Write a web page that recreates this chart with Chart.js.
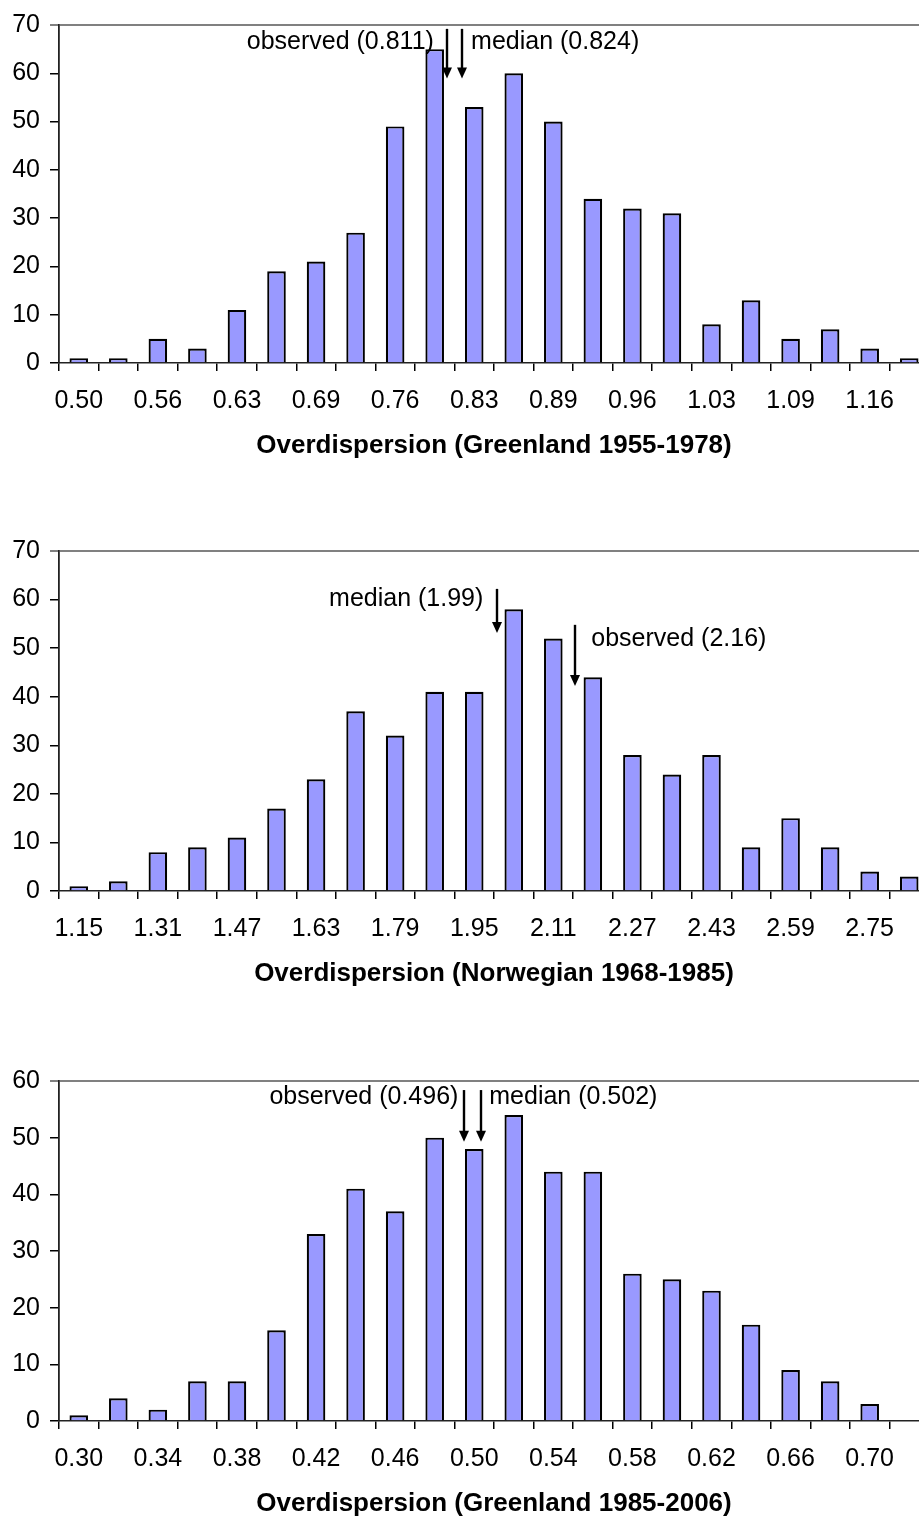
<!DOCTYPE html>
<html>
<head>
<meta charset="utf-8">
<script src="https://cdn.jsdelivr.net/npm/chart.js@4.4.1/dist/chart.umd.min.js"></script>
<style>
  html, body { margin: 0; padding: 0; background: #fff; }
  body { width: 919px; height: 1517px; overflow: hidden; position: relative; }
  canvas { position: absolute; left: 0; }
</style>
</head>
<body>
<canvas id="c1" width="929" height="463" style="top:0px"></canvas>
<canvas id="c2" width="929" height="465" style="top:526px"></canvas>
<canvas id="c3" width="929" height="465" style="top:1056px"></canvas>
<script>
// --- Greenland 1955-1978
const g1Bins = ['0.50','','0.56','','0.63','','0.69','','0.76','','0.83','','0.89','','0.96','','1.03','','1.09','','1.16',''];
const g1Counts = [1, 1, 5, 3, 11, 19, 21, 27, 49, 65, 53, 60, 50, 34, 32, 31, 8, 13, 5, 7, 3, 1];
const g1Max = 70;
const g1MarkText = ['observed (0.811)', 'median (0.824)'];
const g1MarkAt = [9.30, 9.69];      // position in bins
const g1MarkFrom = [69.2, 69.2];    // counts
const g1MarkTo = [58.9, 58.9];
const g1TextAt = [8.98, 9.92];
const g1TextY = [66.4, 66.4];

// --- Norwegian 1968-1985
const n2Bins = ['1.15','','1.31','','1.47','','1.63','','1.79','','1.95','','2.11','','2.27','','2.43','','2.59','','2.75',''];
const n2Counts = [1, 2, 8, 9, 11, 17, 23, 37, 32, 41, 41, 58, 52, 44, 28, 24, 28, 9, 15, 9, 4, 3];
const n2Max = 70;
const n2MarkText = ['median (1.99)', 'observed (2.16)'];
const n2MarkAt = [10.58, 12.54];
const n2MarkFrom = [62.2, 54.8];
const n2MarkTo = [53.1, 42.2];
const n2TextAt = [10.23, 12.96];
const n2TextY = [60.1, 51.9];

// --- Greenland 1985-2006
const g3Bins = ['0.30','','0.34','','0.38','','0.42','','0.46','','0.50','','0.54','','0.58','','0.62','','0.66','','0.70',''];
const g3Counts = [1, 4, 2, 7, 7, 16, 33, 41, 37, 50, 48, 54, 44, 44, 26, 25, 23, 17, 9, 7, 3];
const g3Max = 60;
const g3MarkText = ['observed (0.496)', 'median (0.502)'];
const g3MarkAt = [9.73, 10.17];
const g3MarkFrom = [58.4, 58.4];
const g3MarkTo = [49.3, 49.3];
const g3TextAt = [9.60, 10.38];
const g3TextY = [57.1, 57.1];

const FONT = "'Liberation Sans', Arial, sans-serif";
Chart.defaults.font.family = FONT;
Chart.defaults.color = '#000';

// arrows + labels placed through the chart scales
const markerPlugin = {
  id: 'markers',
  afterDatasetsDraw(chart, args, opts) {
    const xs = chart.scales.x, ys = chart.scales.y, c = chart.ctx;
    c.save();
    c.fillStyle = '#000';
    c.strokeStyle = '#000';
    opts.text.forEach((t, i) => {
      const ax = Math.round(xs.getPixelForValue(opts.at[i]));
      const top = ys.getPixelForValue(opts.from[i]);
      const tip = ys.getPixelForValue(opts.to[i]);
      c.lineWidth = 2.4;
      c.beginPath();
      c.moveTo(ax, top);
      c.lineTo(ax, tip - 9);
      c.stroke();
      c.beginPath();
      c.moveTo(ax - 5, tip - 11);
      c.lineTo(ax + 5, tip - 11);
      c.lineTo(ax, tip);
      c.closePath();
      c.fill();

      const tx = xs.getPixelForValue(opts.textAt[i]);
      c.font = '25px ' + FONT;
      c.textBaseline = 'middle';
      c.textAlign = tx < ax ? 'right' : 'left';
      c.fillText(t, tx, ys.getPixelForValue(opts.textY[i]));
    });
    c.restore();
  }
};

function makeHist(id, bins, counts, max, title, marks) {
  return new Chart(document.getElementById(id), {
    type: 'bar',
    data: {
      labels: bins,
      datasets: [{
        data: counts,
        backgroundColor: '#9999FF',
        borderColor: '#000',
        borderWidth: 2.2,
        categoryPercentage: 1,
        barPercentage: 0.47
      }]
    },
    plugins: [markerPlugin],
    options: {
      responsive: false,
      animation: false,
      layout: { padding: { top: 23, left: 0, right: 0, bottom: 0 } },
      plugins: {
        legend: { display: false },
        tooltip: { enabled: false },
        markers: marks
      },
      scales: {
        x: {
          offset: true,
          grid: {
            offset: true,
            drawOnChartArea: false,
            tickLength: 8,
            tickColor: '#000',
            lineWidth: 1.5
          },
          border: { color: '#222', width: 1.6 },
          ticks: {
            autoSkip: false,
            maxRotation: 0,
            minRotation: 0,
            padding: 15,
            font: { size: 25 },
            color: '#000'
          },
          title: {
            display: true,
            text: title,
            font: { size: 26, weight: 'bold' },
            color: '#000',
            padding: { top: 0, bottom: 1.4 }
          },
          afterFit(scale) { scale.height = 100; }
        },
        y: {
          min: 0,
          max: max,
          ticks: { stepSize: 10, padding: 10, font: { size: 25 }, color: '#000' },
          grid: {
            tickLength: 9,
            color: ctx => ctx.tick && ctx.tick.value === max ? '#808080' : 'rgba(0,0,0,0)',
            tickColor: ctx => ctx.tick && ctx.tick.value === max ? '#808080' : '#000',
            lineWidth: ctx => ctx.tick && ctx.tick.value === max ? 2 : 1.5
          },
          border: { color: '#222', width: 1.8 },
          afterFit(scale) { scale.width = 59; }
        }
      }
    }
  });
}

makeHist('c1', g1Bins, g1Counts, g1Max, 'Overdispersion (Greenland 1955-1978)',
  { text: g1MarkText, at: g1MarkAt, from: g1MarkFrom, to: g1MarkTo, textAt: g1TextAt, textY: g1TextY });
makeHist('c2', n2Bins, n2Counts, n2Max, 'Overdispersion (Norwegian 1968-1985)',
  { text: n2MarkText, at: n2MarkAt, from: n2MarkFrom, to: n2MarkTo, textAt: n2TextAt, textY: n2TextY });
makeHist('c3', g3Bins, g3Counts, g3Max, 'Overdispersion (Greenland 1985-2006)',
  { text: g3MarkText, at: g3MarkAt, from: g3MarkFrom, to: g3MarkTo, textAt: g3TextAt, textY: g3TextY });
</script>
</body>
</html>
